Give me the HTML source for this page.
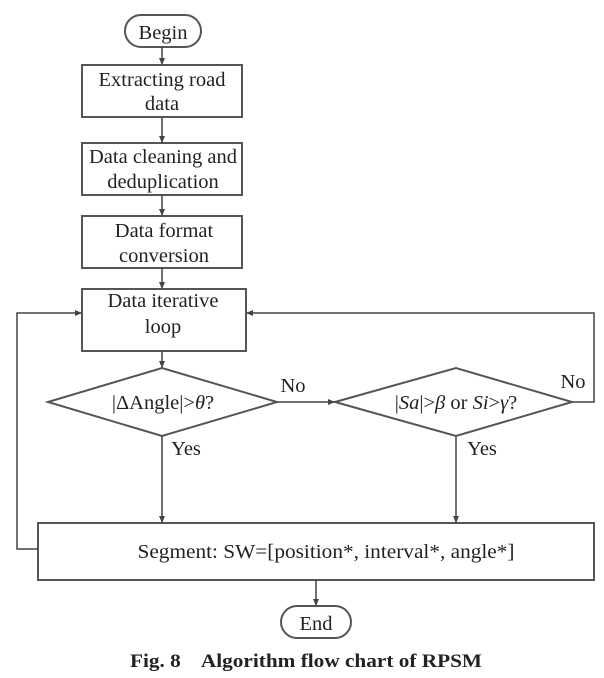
<!DOCTYPE html>
<html><head><meta charset="utf-8"><style>
html,body{margin:0;padding:0;background:#fff;}
svg text{font-family:"Liberation Serif",serif;fill:#222;}
</style></head><body>
<svg width="604" height="673" viewBox="0 0 604 673" xmlns="http://www.w3.org/2000/svg">
<defs><marker id="a" markerWidth="8" markerHeight="8" refX="7" refY="4" orient="auto" markerUnits="userSpaceOnUse"><path d="M0,1 L7,4 L0,7 z" fill="#444"/></marker></defs>
<g stroke="#555" stroke-width="2" fill="none">
<rect x="125" y="15" width="76" height="32" rx="16"/>
<rect x="82" y="65" width="160" height="52"/>
<rect x="82" y="143" width="160" height="52"/>
<rect x="82" y="216" width="160" height="52"/>
<rect x="82" y="289" width="164" height="62"/>
<polygon points="48,402 162,368 277,402 162,436"/>
<polygon points="335,402 456,368 572,402 456,436"/>
<rect x="38" y="523" width="556" height="57"/>
<rect x="281" y="606" width="70" height="32" rx="16"/>
</g>
<g stroke="#444" stroke-width="1.5" fill="none" marker-end="url(#a)">
<line x1="162" y1="47" x2="162" y2="65"/>
<line x1="162" y1="117" x2="162" y2="143"/>
<line x1="162" y1="195" x2="162" y2="216"/>
<line x1="162" y1="268" x2="162" y2="289"/>
<line x1="162" y1="351" x2="162" y2="368"/>
<line x1="277" y1="402" x2="335" y2="402"/>
<line x1="162" y1="436" x2="162" y2="523"/>
<line x1="456" y1="436" x2="456" y2="523"/>
<line x1="316" y1="580" x2="316" y2="606"/>
<polyline points="38,549 17,549 17,313 82,313"/>
<polyline points="572,402 594,402 594,313 246,313"/>
</g>
<g font-size="20.5" text-anchor="middle">
<text x="163" y="39">Begin</text>
<text x="162" y="86">Extracting road</text>
<text x="162" y="110">data</text>
<text x="163" y="163">Data cleaning and</text>
<text x="163" y="188">deduplication</text>
<text x="164" y="237">Data format</text>
<text x="164" y="262">conversion</text>
<text x="163" y="307">Data iterative</text>
<text x="163" y="333">loop</text>
<text x="163" y="409">|ΔAngle|&gt;<tspan font-style="italic">θ</tspan>?</text>
<text x="456" y="409">|<tspan font-style="italic">Sa</tspan>|&gt;<tspan font-style="italic">β</tspan> or <tspan font-style="italic">Si</tspan>&gt;<tspan font-style="italic">γ</tspan>?</text>
<text x="293" y="392">No</text>
<text x="573" y="388">No</text>
<text x="186" y="455">Yes</text>
<text x="482" y="455">Yes</text>
<text x="326" y="558" textLength="377" lengthAdjust="spacingAndGlyphs">Segment: SW=[position*, interval*, angle*]</text>
<text x="316" y="630">End</text>
<text x="306" y="667" font-size="19" font-weight="bold" textLength="352" lengthAdjust="spacingAndGlyphs" style="white-space:pre">Fig. 8    Algorithm flow chart of RPSM</text>
</g>
</svg>
</body></html>
